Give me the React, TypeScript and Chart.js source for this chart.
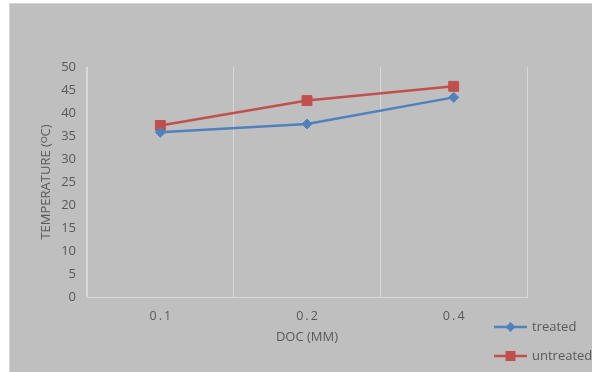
import React, { useEffect, useRef } from "react";
import { Chart, registerables } from "chart.js";

Chart.register(...registerables);

// Depth of cut categories and measured temperatures
const categories = ["0.1", "0.2", "0.4"];
const treated = [35.8, 37.6, 43.4];
const untreated = [37.3, 42.7, 45.8];
const yTicks = [0, 5, 10, 15, 20, 25, 30, 35, 40, 45, 50];

const BLUE = "#4F81BD";
const RED = "#C0504D";
const TEXT = "#595959";
const GRID = "#d9d9d9";
const FONT = "'Open Sans', 'Liberation Sans', sans-serif";

// Legend drawn as line + marker samples stacked at the lower right
const lineMarkerLegend = {
  id: "lineMarkerLegend",
  afterDraw(chart: any) {
    const ctx = chart.ctx;
    const x0 = 485;
    const x1 = 518;
    const rows = [324, 353];
    chart.data.datasets.forEach((ds: any, i: number) => {
      const y = rows[i];
      ctx.save();
      ctx.strokeStyle = ds.borderColor;
      ctx.lineWidth = ds.borderWidth;
      ctx.beginPath();
      ctx.moveTo(x0, y);
      ctx.lineTo(x1, y);
      ctx.stroke();
      const cx = (x0 + x1) / 2;
      ctx.fillStyle = ds.pointBackgroundColor;
      ctx.beginPath();
      if (ds.pointStyle === "rectRot") {
        const r = 5;
        ctx.moveTo(cx - r, y);
        ctx.lineTo(cx, y - r);
        ctx.lineTo(cx + r, y);
        ctx.lineTo(cx, y + r);
        ctx.closePath();
      } else {
        const s = 5;
        ctx.rect(cx - s, y - s, 2 * s, 2 * s);
      }
      ctx.fill();
      ctx.fillStyle = TEXT;
      ctx.font = `13px ${FONT}`;
      ctx.textBaseline = "middle";
      ctx.textAlign = "left";
      ctx.fillText(ds.label, x1 + 5, y);
      ctx.restore();
    });
  },
};

export default function App() {
  const canvasRef = useRef<HTMLCanvasElement | null>(null);

  useEffect(() => {
    if (!canvasRef.current) return;
    const chart = new Chart(canvasRef.current, {
      type: "line",
      data: {
        labels: categories,
        datasets: [
          {
            label: "treated",
            data: treated,
            borderColor: BLUE,
            backgroundColor: BLUE,
            pointBackgroundColor: BLUE,
            pointBorderColor: BLUE,
            borderWidth: 2.5,
            pointStyle: "rectRot",
            pointRadius: 5,
            pointBorderWidth: 1,
            tension: 0,
          },
          {
            label: "untreated",
            data: untreated,
            borderColor: RED,
            backgroundColor: RED,
            pointBackgroundColor: RED,
            pointBorderColor: RED,
            borderWidth: 2.5,
            pointStyle: "rect",
            pointRadius: 7,
            pointBorderWidth: 1,
            tension: 0,
          },
        ],
      },
      options: {
        responsive: false,
        animation: false,
        layout: { padding: { left: 25, top: 64, right: 65, bottom: 23 } },
        plugins: {
          legend: { display: false },
          tooltip: { enabled: false },
        },
        scales: {
          x: {
            offset: true,
            grid: { offset: true, color: GRID, lineWidth: 1, drawTicks: false },
            border: { display: true, color: GRID, width: 1 },
            ticks: {
              color: TEXT,
              font: { family: FONT, size: 12.5 },
              padding: 12,
              callback: function (this: any, value: any) {
                return String(this.getLabelForValue(value)).split("").join("\u2009");
              },
            },
            title: {
              display: true,
              text: "DOC (MM)",
              color: TEXT,
              font: { family: FONT, size: 13 },
              padding: { top: 4, bottom: 4 },
            },
            afterFit: (scale: any) => {
              scale.height = 52;
            },
          },
          y: {
            min: 0,
            max: 50,
            afterBuildTicks: (scale: any) => {
              scale.ticks = yTicks.map((v) => ({ value: v }));
            },
            grid: { display: false, drawTicks: false },
            border: { display: true, color: GRID, width: 1 },
            ticks: {
              color: TEXT,
              font: { family: FONT, size: 13 },
              padding: 11,
            },
            title: {
              display: true,
              text: "TEMPERATURE (ᴼC)",
              color: TEXT,
              font: { family: FONT, size: 13 },
              padding: { top: 4, bottom: 4 },
            },
            afterFit: (scale: any) => {
              scale.width = 53;
            },
          },
        },
      },
      plugins: [lineMarkerLegend],
    });
    return () => chart.destroy();
  }, []);

  return (
    <div
      style={{
        position: "absolute",
        left: 9,
        top: 3,
        width: 583,
        height: 369,
        background: "#bfbfbf",
        borderLeft: "1px solid #d6d6d6",
        borderTop: "1px solid #d6d6d6",
        boxSizing: "border-box",
        overflow: "hidden",
      }}
    >
      <canvas ref={canvasRef} width={583} height={369} style={{ position: "absolute", left: -1, top: -1 }} />
    </div>
  );
}
